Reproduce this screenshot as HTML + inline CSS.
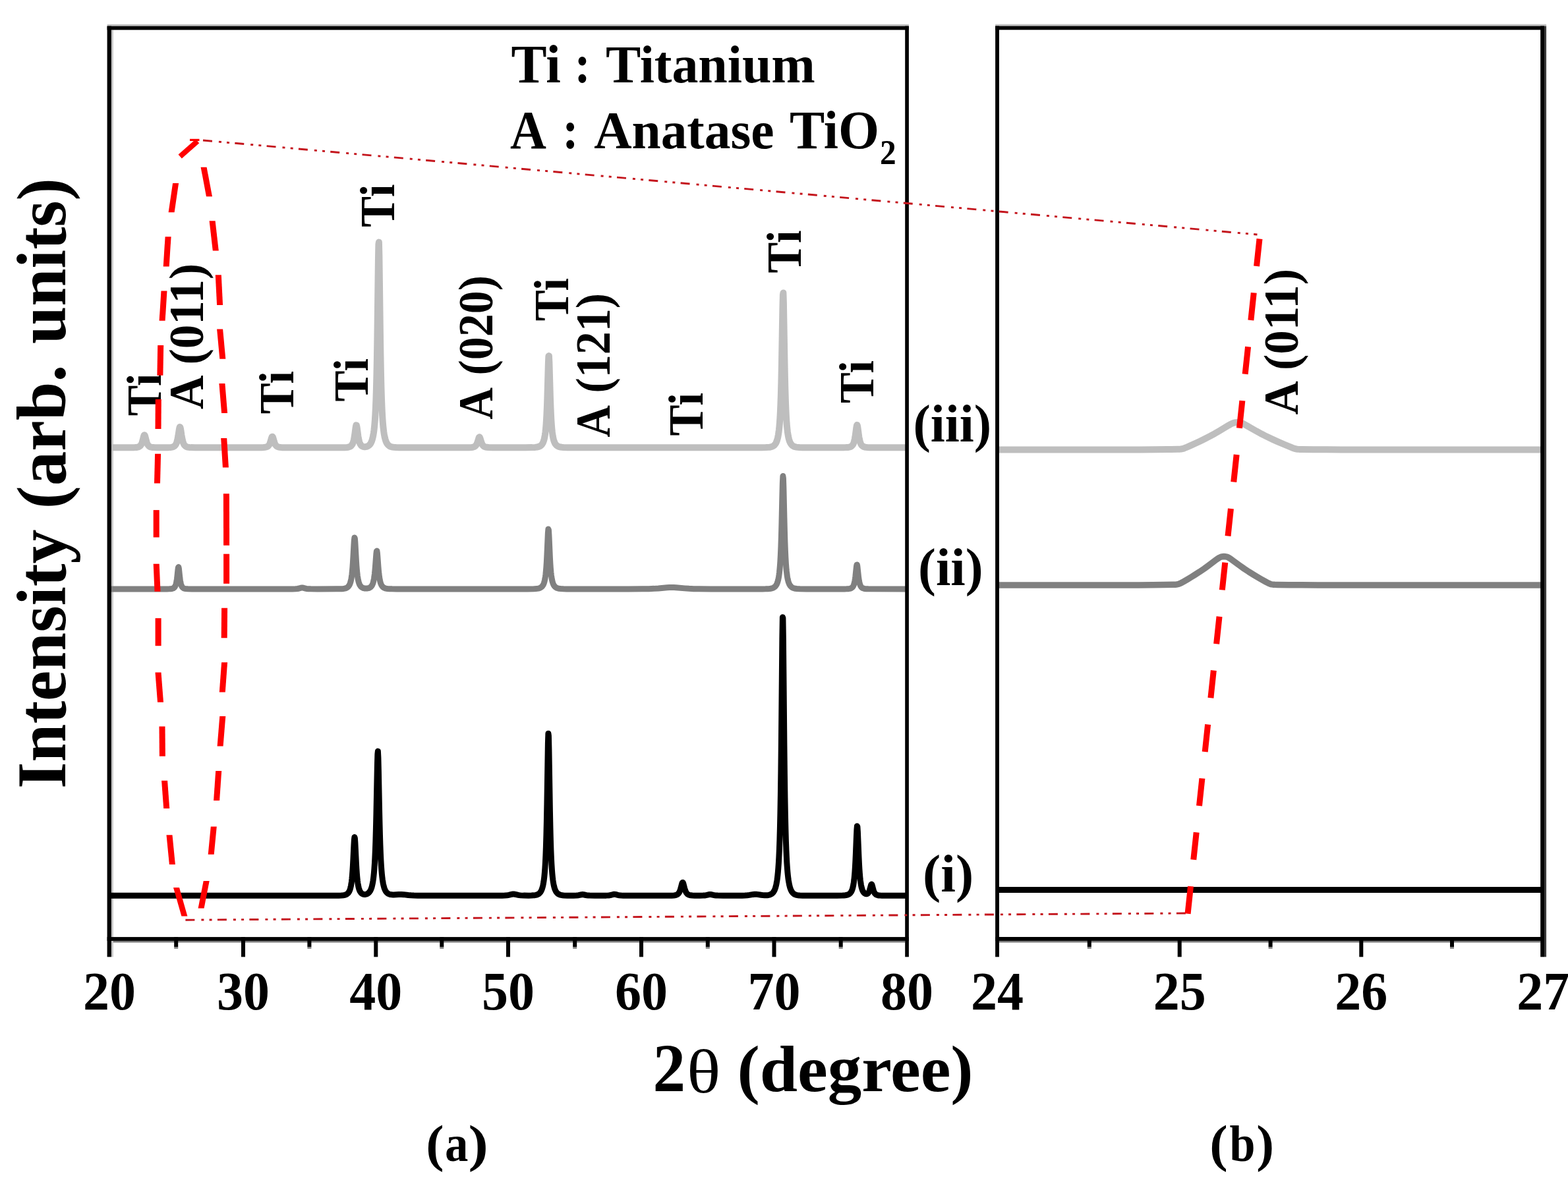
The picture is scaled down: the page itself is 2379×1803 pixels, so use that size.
<!DOCTYPE html>
<html lang="en">
<head>
<meta charset="utf-8">
<title>XRD patterns</title>
<style>
html,body{margin:0;padding:0;background:#fff;}
body{width:2379px;height:1803px;overflow:hidden;}
svg{display:block;}
text{font-family:"Liberation Serif", "DejaVu Serif", serif;}
</style>
</head>
<body>
<svg width="2379" height="1803" viewBox="0 0 2379 1803" font-family='"Liberation Serif", "DejaVu Serif", serif'>
<rect width="2379" height="1803" fill="#fff"/>
<defs><filter id="soft" x="0" y="0" width="2379" height="1803" filterUnits="userSpaceOnUse" color-interpolation-filters="sRGB"><feGaussianBlur stdDeviation="0.45"/></filter></defs>
<g filter="url(#soft)">
<rect width="2379" height="1803" fill="#fff"/>
<rect x="162.6" y="36.8" width="1216.3" height="2.8" fill="#c0c0c0"/>
<rect x="168.9" y="1427.9" width="1204.3" height="2.6" fill="#7c7c7c"/>
<rect x="168.9" y="45.4" width="2.9" height="1406.9" fill="#c8c8c8"/>
<rect x="1510.1" y="36.7" width="836.0" height="2.8" fill="#c0c0c0"/>
<rect x="1515.9" y="1427.9" width="821.3" height="2.6" fill="#7c7c7c"/>
<rect x="2343.0" y="39.5" width="3.1" height="1412.8" fill="#3a3a3a"/>
<path d="M165.9 679.20 L202.9 679.15 L204.9 679.09 L206.9 678.94 L208.4 678.72 L209.9 678.34 L211.4 677.68 L212.4 676.97 L213.4 675.93 L213.9 675.23 L214.4 674.39 L214.9 673.36 L215.4 672.12 L215.9 670.64 L216.4 668.90 L217.9 662.81 L218.4 661.16 L218.9 660.22 L219.4 660.23 L219.9 661.19 L220.4 662.85 L221.9 668.94 L222.4 670.67 L222.9 672.15 L223.4 673.38 L223.9 674.41 L224.4 675.25 L225.4 676.51 L226.4 677.37 L226.9 677.68 L227.9 678.17 L229.4 678.62 L231.4 678.94 L233.9 679.11 L237.9 679.19 L250.9 679.19 L255.9 679.13 L259.4 678.89 L260.9 678.66 L261.9 678.41 L262.9 678.05 L263.9 677.55 L264.9 676.83 L265.4 676.36 L266.4 675.11 L266.9 674.29 L267.4 673.29 L267.9 672.08 L268.4 670.62 L268.9 668.84 L269.4 666.71 L270.4 661.24 L271.9 651.41 L272.4 649.03 L272.9 647.95 L273.4 648.45 L273.9 650.40 L274.4 653.33 L275.4 660.05 L276.4 665.81 L276.9 668.09 L277.4 669.99 L277.9 671.56 L278.4 672.86 L278.9 673.93 L279.4 674.82 L279.9 675.55 L280.4 676.16 L281.4 677.08 L282.4 677.73 L283.4 678.18 L284.9 678.62 L286.4 678.87 L287.9 679.02 L289.9 679.12 L295.4 679.19 L385.9 679.20 L397.4 679.15 L399.9 679.05 L401.9 678.86 L403.9 678.46 L405.4 677.88 L406.4 677.27 L406.9 676.86 L407.9 675.76 L408.4 675.03 L408.9 674.14 L409.4 673.07 L409.9 671.78 L410.4 670.27 L411.9 664.96 L412.4 663.50 L412.9 662.65 L413.4 662.63 L413.9 663.43 L414.4 664.87 L415.9 670.18 L416.4 671.70 L416.9 673.00 L417.4 674.09 L417.9 674.99 L418.4 675.73 L419.4 676.83 L419.9 677.25 L420.9 677.87 L422.4 678.45 L424.4 678.86 L426.4 679.05 L428.4 679.14 L435.9 679.20 L517.4 679.19 L522.9 679.14 L526.4 678.94 L527.9 678.75 L529.4 678.43 L530.9 677.88 L531.9 677.33 L532.9 676.52 L533.9 675.36 L534.4 674.60 L534.9 673.66 L535.4 672.52 L535.9 671.12 L536.4 669.41 L536.9 667.31 L537.4 664.75 L538.4 658.14 L539.4 650.38 L539.9 647.15 L540.4 645.32 L540.9 645.41 L541.4 647.39 L541.9 650.70 L543.4 661.96 L543.9 664.97 L544.4 667.48 L544.9 669.53 L545.4 671.21 L545.9 672.57 L546.4 673.68 L546.9 674.59 L547.9 675.94 L548.4 676.44 L549.4 677.18 L549.9 677.45 L550.9 677.84 L552.4 678.14 L553.9 678.18 L554.9 678.09 L555.9 677.90 L556.9 677.61 L557.9 677.19 L559.4 676.29 L560.4 675.44 L561.4 674.33 L562.4 672.86 L563.4 670.93 L564.4 668.35 L564.9 666.74 L565.9 662.66 L566.4 660.07 L566.9 657.00 L567.4 653.33 L567.9 648.93 L568.4 643.60 L568.9 637.08 L569.4 629.06 L569.9 619.10 L570.4 606.60 L570.9 590.83 L571.4 570.85 L571.9 545.61 L572.4 514.23 L573.9 396.51 L574.4 370.70 L574.9 367.57 L575.4 388.43 L576.9 505.44 L577.4 538.41 L577.9 565.11 L578.4 586.30 L578.9 603.02 L579.4 616.25 L579.9 626.79 L580.4 635.25 L580.9 642.10 L581.4 647.70 L581.9 652.31 L582.4 656.15 L582.9 659.36 L583.4 662.06 L583.9 664.35 L584.4 666.31 L585.4 669.41 L586.4 671.73 L587.4 673.47 L588.4 674.80 L589.4 675.82 L590.9 676.92 L592.4 677.67 L594.4 678.31 L595.9 678.61 L597.4 678.82 L600.9 679.07 L605.4 679.17 L706.4 679.20 L711.9 679.15 L715.4 678.96 L716.9 678.76 L717.9 678.55 L718.9 678.25 L719.9 677.81 L720.9 677.16 L721.4 676.73 L722.4 675.56 L722.9 674.79 L723.4 673.85 L724.4 671.38 L726.4 664.84 L726.9 663.75 L727.4 663.36 L727.9 663.79 L728.4 664.92 L730.4 671.46 L731.4 673.90 L731.9 674.83 L732.4 675.60 L733.4 676.75 L733.9 677.18 L734.9 677.82 L736.4 678.42 L738.4 678.85 L741.4 679.10 L746.9 679.19 L797.9 679.20 L807.4 679.12 L811.9 678.90 L814.9 678.53 L816.4 678.20 L817.4 677.90 L818.4 677.51 L819.4 677.00 L820.4 676.33 L820.9 675.92 L821.9 674.91 L822.4 674.28 L823.4 672.69 L823.9 671.69 L824.9 669.11 L825.4 667.44 L825.9 665.43 L826.4 663.00 L826.9 660.03 L827.4 656.36 L827.9 651.80 L828.4 646.08 L828.9 638.86 L829.4 629.70 L829.9 618.15 L830.4 603.82 L831.9 551.14 L832.4 540.38 L832.9 540.04 L833.4 550.26 L834.9 602.87 L835.4 617.37 L835.9 629.08 L836.4 638.36 L836.9 645.69 L837.4 651.49 L837.9 656.11 L838.4 659.83 L838.9 662.84 L839.4 665.30 L839.9 667.33 L840.4 669.02 L840.9 670.43 L841.9 672.64 L842.4 673.50 L843.4 674.87 L844.4 675.89 L845.4 676.67 L846.4 677.25 L847.4 677.70 L848.9 678.19 L850.4 678.52 L852.4 678.81 L854.9 679.01 L860.9 679.17 L872.9 679.20 L1155.9 679.19 L1161.9 679.10 L1165.9 678.88 L1167.4 678.71 L1168.9 678.46 L1170.4 678.09 L1171.4 677.76 L1172.9 677.05 L1173.9 676.41 L1174.9 675.57 L1175.9 674.47 L1176.9 673.02 L1177.4 672.12 L1178.4 669.89 L1178.9 668.48 L1179.9 664.90 L1180.4 662.61 L1180.9 659.87 L1181.4 656.58 L1181.9 652.60 L1182.4 647.75 L1182.9 641.77 L1183.4 634.34 L1183.9 625.03 L1184.4 613.29 L1184.9 598.41 L1185.4 579.60 L1185.9 556.20 L1187.4 467.66 L1187.9 447.68 L1188.4 444.54 L1188.9 459.57 L1190.4 547.38 L1190.9 572.38 L1191.4 592.65 L1191.9 608.74 L1192.4 621.44 L1192.9 631.49 L1193.4 639.49 L1193.9 645.91 L1194.4 651.10 L1194.9 655.35 L1195.4 658.85 L1195.9 661.75 L1196.4 664.19 L1196.9 666.23 L1197.9 669.45 L1198.9 671.80 L1199.4 672.74 L1200.4 674.25 L1201.4 675.40 L1202.4 676.28 L1203.4 676.96 L1204.9 677.69 L1206.4 678.19 L1208.4 678.61 L1210.4 678.87 L1212.9 679.04 L1216.9 679.15 L1222.9 679.19 L1279.9 679.18 L1283.4 679.11 L1285.9 678.97 L1287.9 678.71 L1289.4 678.35 L1290.4 677.99 L1291.4 677.47 L1292.4 676.73 L1292.9 676.25 L1293.9 674.96 L1294.4 674.11 L1294.9 673.07 L1295.4 671.79 L1295.9 670.23 L1296.4 668.32 L1296.9 665.98 L1297.4 663.15 L1297.9 659.81 L1299.4 648.42 L1299.9 645.82 L1300.4 644.94 L1300.9 646.06 L1301.4 648.84 L1302.9 660.26 L1303.4 663.53 L1303.9 666.29 L1304.4 668.58 L1304.9 670.44 L1305.4 671.97 L1305.9 673.21 L1306.4 674.23 L1306.9 675.06 L1307.4 675.75 L1308.4 676.79 L1309.4 677.51 L1310.4 678.01 L1311.9 678.51 L1313.9 678.87 L1315.9 679.04 L1318.9 679.15 L1375.9 679.20" fill="none" stroke="#bebebe" stroke-width="10" stroke-linejoin="round" stroke-linecap="butt"/>
<path d="M165.9 893.90 L253.4 893.89 L256.9 893.82 L258.9 893.70 L260.4 893.50 L261.9 893.14 L262.9 892.73 L263.4 892.45 L264.4 891.66 L264.9 891.11 L265.4 890.41 L265.9 889.52 L266.4 888.38 L266.9 886.90 L267.4 884.97 L267.9 882.44 L268.4 879.16 L268.9 875.02 L269.9 865.15 L270.4 861.44 L270.9 860.59 L271.4 863.02 L272.9 877.19 L273.4 880.90 L273.9 883.78 L274.4 886.00 L274.9 887.69 L275.4 888.99 L275.9 889.99 L276.4 890.78 L276.9 891.40 L277.4 891.89 L278.4 892.59 L279.4 893.05 L280.4 893.35 L281.9 893.62 L284.9 893.83 L290.9 893.90 L443.4 893.88 L448.4 893.75 L451.4 893.48 L453.9 892.98 L456.9 892.09 L457.9 891.92 L458.4 891.90 L458.9 891.93 L459.9 892.12 L462.9 893.01 L464.9 893.42 L467.9 893.73 L471.4 893.85 L481.9 893.90 L513.4 893.86 L518.9 893.67 L520.9 893.48 L522.9 893.15 L524.9 892.57 L525.9 892.13 L526.9 891.55 L527.9 890.76 L528.4 890.27 L529.4 889.01 L530.4 887.25 L530.9 886.11 L531.4 884.74 L531.9 883.08 L532.4 881.07 L532.9 878.60 L533.4 875.55 L533.9 871.77 L534.4 867.08 L534.9 861.28 L535.4 854.19 L535.9 845.80 L536.9 827.09 L537.4 819.55 L537.9 815.91 L538.4 817.42 L538.9 823.56 L540.4 850.79 L540.9 858.44 L541.4 864.77 L541.9 869.91 L542.4 874.05 L542.9 877.38 L543.4 880.08 L543.9 882.27 L544.4 884.07 L544.9 885.55 L545.4 886.78 L546.4 888.66 L547.4 890.00 L547.9 890.52 L548.9 891.35 L550.4 892.19 L551.9 892.70 L552.9 892.91 L554.4 893.09 L555.9 893.11 L556.9 893.04 L557.9 892.90 L558.9 892.68 L559.9 892.36 L560.9 891.91 L561.9 891.28 L562.4 890.88 L563.4 889.85 L563.9 889.19 L564.9 887.45 L565.4 886.30 L565.9 884.90 L566.4 883.19 L566.9 881.09 L567.4 878.49 L567.9 875.26 L568.4 871.25 L568.9 866.32 L569.4 860.41 L570.9 840.25 L571.4 836.32 L571.9 836.03 L572.4 839.48 L572.9 845.53 L573.9 859.46 L574.4 865.52 L574.9 870.59 L575.4 874.72 L575.9 878.06 L576.4 880.75 L576.9 882.92 L577.4 884.68 L577.9 886.12 L578.4 887.31 L578.9 888.29 L579.9 889.79 L580.9 890.86 L581.4 891.28 L582.4 891.94 L583.9 892.62 L585.4 893.07 L587.9 893.49 L590.9 893.73 L594.9 893.85 L601.9 893.90 L800.4 893.89 L809.9 893.77 L812.9 893.60 L814.9 893.39 L816.4 893.14 L817.9 892.77 L818.9 892.43 L819.9 891.98 L821.4 891.03 L822.4 890.12 L822.9 889.54 L823.9 888.08 L824.4 887.13 L824.9 886.01 L825.4 884.65 L825.9 883.00 L826.4 880.98 L826.9 878.49 L827.4 875.39 L827.9 871.49 L828.4 866.55 L828.9 860.31 L829.4 852.44 L829.9 842.74 L831.4 808.78 L831.9 803.05 L832.4 804.37 L832.9 812.18 L834.4 846.44 L834.9 855.47 L835.4 862.73 L835.9 868.46 L836.4 873.00 L836.9 876.59 L837.4 879.45 L837.9 881.76 L838.4 883.63 L838.9 885.17 L839.4 886.44 L840.4 888.38 L841.4 889.76 L841.9 890.30 L842.9 891.17 L844.4 892.07 L845.4 892.50 L846.4 892.82 L848.4 893.26 L851.4 893.62 L854.9 893.79 L859.9 893.88 L953.9 893.90 L974.9 893.85 L984.4 893.69 L992.4 893.37 L998.9 892.91 L1011.9 891.69 L1015.4 891.48 L1018.9 891.40 L1022.4 891.47 L1025.9 891.67 L1038.9 892.89 L1045.4 893.36 L1052.4 893.66 L1060.4 893.82 L1078.9 893.90 L1156.9 893.89 L1161.4 893.84 L1164.9 893.72 L1167.4 893.53 L1169.4 893.25 L1170.9 892.93 L1172.4 892.45 L1173.4 892.02 L1174.4 891.45 L1175.4 890.71 L1176.4 889.74 L1177.4 888.45 L1177.9 887.65 L1178.9 885.63 L1179.4 884.35 L1179.9 882.84 L1180.4 881.05 L1180.9 878.90 L1181.4 876.32 L1181.9 873.18 L1182.4 869.34 L1182.9 864.59 L1183.4 858.66 L1183.9 851.22 L1184.4 841.81 L1184.9 829.88 L1185.4 814.87 L1185.9 796.41 L1186.9 752.13 L1187.4 732.71 L1187.9 722.61 L1188.4 725.89 L1188.9 741.16 L1189.9 785.41 L1190.4 805.62 L1190.9 822.42 L1191.4 835.90 L1191.9 846.56 L1192.4 854.97 L1192.9 861.65 L1193.4 866.97 L1193.9 871.26 L1194.4 874.75 L1194.9 877.61 L1195.4 879.97 L1195.9 881.94 L1196.4 883.59 L1197.4 886.17 L1197.9 887.18 L1198.9 888.79 L1199.4 889.44 L1200.4 890.48 L1201.4 891.28 L1202.4 891.88 L1203.9 892.54 L1205.4 892.99 L1206.9 893.29 L1208.9 893.55 L1213.4 893.81 L1223.9 893.90 L1281.4 893.88 L1284.4 893.82 L1286.9 893.68 L1288.9 893.41 L1290.4 893.02 L1291.4 892.61 L1292.4 891.99 L1293.4 891.08 L1293.9 890.46 L1294.4 889.69 L1294.9 888.73 L1295.4 887.52 L1295.9 885.99 L1296.4 884.05 L1296.9 881.57 L1297.4 878.44 L1297.9 874.54 L1299.4 860.15 L1299.9 857.21 L1300.4 857.10 L1300.9 859.88 L1302.4 874.25 L1302.9 878.20 L1303.4 881.38 L1303.9 883.90 L1304.4 885.87 L1304.9 887.42 L1305.4 888.65 L1305.9 889.63 L1306.4 890.41 L1307.4 891.55 L1307.9 891.97 L1308.9 892.59 L1310.4 893.17 L1311.9 893.49 L1314.4 893.75 L1317.4 893.86 L1375.9 893.90" fill="none" stroke="#808080" stroke-width="9" stroke-linejoin="round" stroke-linecap="butt"/>
<path d="M165.9 1359.20 L507.9 1359.19 L513.9 1359.15 L517.9 1359.01 L520.9 1358.72 L522.9 1358.35 L523.9 1358.06 L524.9 1357.69 L525.9 1357.19 L526.9 1356.53 L527.9 1355.63 L528.4 1355.07 L529.4 1353.64 L530.4 1351.64 L530.9 1350.34 L531.4 1348.78 L531.9 1346.90 L532.4 1344.61 L532.9 1341.80 L533.4 1338.33 L533.9 1334.04 L534.4 1328.70 L534.9 1322.10 L535.4 1314.04 L535.9 1304.50 L536.9 1283.22 L537.4 1274.64 L537.9 1270.50 L538.4 1272.22 L538.9 1279.19 L540.4 1310.16 L540.9 1318.85 L541.4 1326.04 L541.9 1331.88 L542.4 1336.58 L542.9 1340.36 L543.4 1343.42 L543.9 1345.91 L544.4 1347.94 L544.9 1349.61 L545.4 1351.00 L545.9 1352.15 L546.4 1353.11 L547.4 1354.60 L547.9 1355.17 L548.9 1356.05 L549.9 1356.67 L550.9 1357.08 L551.9 1357.33 L552.9 1357.45 L554.4 1357.39 L555.4 1357.20 L556.4 1356.89 L557.4 1356.44 L558.4 1355.83 L559.4 1355.01 L560.4 1353.93 L561.4 1352.52 L562.4 1350.67 L562.9 1349.52 L563.9 1346.67 L564.4 1344.88 L565.4 1340.33 L565.9 1337.42 L566.4 1333.94 L566.9 1329.78 L567.4 1324.74 L567.9 1318.61 L568.4 1311.09 L568.9 1301.81 L569.4 1290.31 L569.9 1276.05 L570.4 1258.50 L570.9 1237.29 L572.4 1161.64 L572.9 1144.49 L573.4 1140.11 L573.9 1150.05 L574.4 1170.89 L575.4 1222.83 L575.9 1246.18 L576.4 1265.92 L576.9 1282.09 L577.4 1295.18 L577.9 1305.73 L578.4 1314.26 L578.9 1321.19 L579.4 1326.85 L579.9 1331.51 L580.4 1335.38 L580.9 1338.62 L581.4 1341.34 L581.9 1343.64 L582.9 1347.27 L583.4 1348.72 L584.4 1351.04 L584.9 1351.97 L585.9 1353.50 L586.4 1354.12 L587.4 1355.14 L587.9 1355.56 L588.9 1356.25 L590.4 1356.98 L591.4 1357.32 L592.4 1357.57 L594.4 1357.85 L595.9 1357.92 L597.4 1357.91 L604.9 1357.44 L606.9 1357.38 L608.9 1357.41 L612.4 1357.64 L619.4 1358.43 L623.4 1358.78 L627.9 1359.02 L633.9 1359.16 L652.4 1359.20 L761.9 1359.16 L765.9 1359.04 L769.4 1358.74 L771.9 1358.32 L776.9 1357.19 L777.9 1357.06 L778.9 1357.00 L779.9 1357.04 L780.9 1357.16 L786.4 1358.38 L787.9 1358.63 L789.9 1358.88 L794.4 1359.12 L801.9 1359.17 L806.4 1359.08 L809.9 1358.85 L811.4 1358.67 L812.9 1358.39 L814.9 1357.81 L816.4 1357.14 L817.9 1356.14 L818.9 1355.21 L819.9 1354.01 L820.9 1352.41 L821.4 1351.43 L822.4 1348.95 L822.9 1347.40 L823.4 1345.58 L823.9 1343.43 L824.4 1340.87 L824.9 1337.82 L825.4 1334.14 L825.9 1329.68 L826.4 1324.22 L826.9 1317.47 L827.4 1309.06 L827.9 1298.49 L828.4 1285.13 L828.9 1268.21 L829.4 1246.89 L829.9 1220.62 L831.4 1128.65 L831.9 1113.14 L832.4 1116.71 L832.9 1137.86 L834.4 1230.65 L834.9 1255.12 L835.4 1274.76 L835.9 1290.31 L836.4 1302.58 L836.9 1312.30 L837.4 1320.06 L837.9 1326.31 L838.4 1331.39 L838.9 1335.55 L839.4 1338.98 L839.9 1341.84 L840.4 1344.24 L841.4 1347.99 L841.9 1349.46 L842.9 1351.80 L843.4 1352.73 L844.4 1354.25 L845.4 1355.40 L846.4 1356.28 L847.4 1356.95 L848.4 1357.47 L849.9 1358.04 L851.4 1358.43 L853.4 1358.76 L855.4 1358.95 L860.9 1359.15 L869.9 1359.17 L874.9 1358.99 L877.9 1358.66 L882.4 1357.73 L883.9 1357.60 L885.4 1357.73 L888.9 1358.48 L890.4 1358.74 L892.4 1358.96 L894.4 1359.08 L902.4 1359.20 L914.9 1359.19 L919.9 1359.13 L922.9 1358.98 L925.4 1358.69 L927.4 1358.27 L930.9 1357.34 L932.4 1357.20 L933.9 1357.38 L937.4 1358.33 L939.4 1358.72 L942.4 1359.03 L945.9 1359.16 L1013.4 1359.19 L1018.9 1359.14 L1022.4 1358.95 L1023.9 1358.75 L1024.9 1358.55 L1025.9 1358.27 L1026.9 1357.87 L1027.9 1357.31 L1028.4 1356.94 L1029.4 1355.98 L1029.9 1355.35 L1030.9 1353.68 L1031.9 1351.31 L1032.9 1348.05 L1034.4 1342.10 L1034.9 1340.45 L1035.4 1339.41 L1035.9 1339.22 L1036.4 1339.90 L1036.9 1341.31 L1038.4 1347.22 L1039.4 1350.67 L1040.4 1353.23 L1041.4 1355.03 L1042.4 1356.28 L1042.9 1356.76 L1043.9 1357.49 L1044.9 1358.00 L1045.9 1358.36 L1047.9 1358.80 L1050.4 1359.05 L1053.9 1359.16 L1061.9 1359.18 L1066.9 1359.07 L1068.9 1358.94 L1070.9 1358.69 L1072.4 1358.41 L1075.9 1357.57 L1077.4 1357.40 L1078.9 1357.53 L1082.4 1358.37 L1084.4 1358.74 L1086.4 1358.96 L1088.9 1359.10 L1097.4 1359.20 L1125.9 1359.15 L1130.4 1359.01 L1133.9 1358.76 L1136.9 1358.39 L1142.9 1357.42 L1144.4 1357.27 L1145.9 1357.20 L1147.4 1357.24 L1148.9 1357.38 L1154.9 1358.31 L1157.4 1358.62 L1159.9 1358.78 L1161.9 1358.81 L1163.9 1358.71 L1165.9 1358.46 L1167.4 1358.12 L1168.9 1357.61 L1170.4 1356.84 L1171.4 1356.13 L1171.9 1355.69 L1172.9 1354.64 L1173.4 1354.00 L1174.4 1352.44 L1175.4 1350.40 L1176.4 1347.70 L1177.4 1344.11 L1177.9 1341.86 L1178.9 1336.17 L1179.4 1332.54 L1179.9 1328.24 L1180.4 1323.10 L1180.9 1316.92 L1181.4 1309.43 L1181.9 1300.26 L1182.4 1288.96 L1182.9 1274.89 L1183.4 1257.23 L1183.9 1234.92 L1184.4 1206.65 L1184.9 1170.99 L1185.4 1126.86 L1186.9 967.28 L1187.4 936.68 L1187.9 938.20 L1188.4 971.22 L1189.9 1131.14 L1190.4 1174.50 L1190.9 1209.44 L1191.4 1237.12 L1191.9 1258.97 L1192.4 1276.27 L1192.9 1290.07 L1193.4 1301.16 L1193.9 1310.15 L1194.4 1317.52 L1194.9 1323.60 L1195.4 1328.65 L1195.9 1332.89 L1196.4 1336.46 L1197.4 1342.08 L1198.4 1346.20 L1198.9 1347.84 L1199.9 1350.51 L1200.9 1352.53 L1201.9 1354.07 L1202.4 1354.70 L1203.4 1355.74 L1204.9 1356.88 L1206.4 1357.65 L1207.4 1358.02 L1208.4 1358.31 L1210.4 1358.69 L1213.4 1358.99 L1217.9 1359.15 L1225.4 1359.20 L1269.9 1359.19 L1278.4 1359.08 L1280.4 1358.98 L1282.4 1358.79 L1283.9 1358.55 L1285.4 1358.20 L1286.4 1357.87 L1287.4 1357.43 L1288.4 1356.85 L1289.4 1356.07 L1290.4 1355.03 L1291.4 1353.60 L1292.4 1351.63 L1292.9 1350.36 L1293.4 1348.85 L1293.9 1347.04 L1294.4 1344.85 L1294.9 1342.19 L1295.4 1338.93 L1295.9 1334.91 L1296.4 1329.93 L1296.9 1323.74 L1297.4 1316.09 L1297.9 1306.71 L1298.4 1295.55 L1299.4 1270.19 L1299.9 1259.48 L1300.4 1253.72 L1300.9 1254.86 L1301.4 1262.48 L1302.9 1299.29 L1303.4 1309.89 L1303.9 1318.69 L1304.4 1325.85 L1304.9 1331.62 L1305.4 1336.27 L1305.9 1340.02 L1306.4 1343.07 L1306.9 1345.56 L1307.4 1347.61 L1307.9 1349.31 L1308.4 1350.72 L1308.9 1351.90 L1309.9 1353.72 L1310.4 1354.42 L1311.4 1355.48 L1312.4 1356.19 L1313.4 1356.61 L1314.4 1356.76 L1315.4 1356.62 L1315.9 1356.43 L1316.4 1356.14 L1316.9 1355.74 L1317.4 1355.20 L1317.9 1354.50 L1318.4 1353.60 L1318.9 1352.47 L1319.4 1351.07 L1319.9 1349.41 L1321.4 1343.68 L1321.9 1342.40 L1322.4 1342.00 L1322.9 1342.63 L1323.4 1344.09 L1324.9 1349.99 L1325.4 1351.66 L1325.9 1353.07 L1326.4 1354.22 L1326.9 1355.16 L1327.4 1355.92 L1328.4 1357.04 L1329.4 1357.77 L1329.9 1358.04 L1330.9 1358.43 L1331.9 1358.70 L1333.4 1358.94 L1335.4 1359.09 L1337.9 1359.17 L1375.9 1359.20" fill="none" stroke="#000" stroke-width="9" stroke-linejoin="round" stroke-linecap="butt"/>
<path d="M1513.0 682.50 L1672.5 682.49 L1729.0 682.41 L1752.5 682.29 L1771.0 682.10 L1787.0 681.81 L1789.5 681.72 L1791.5 681.56 L1793.5 681.25 L1795.0 680.89 L1797.0 680.22 L1799.5 679.21 L1806.5 676.12 L1814.5 672.47 L1821.0 669.41 L1827.5 666.23 L1835.5 662.12 L1843.0 658.02 L1850.0 653.97 L1864.0 645.56 L1867.0 643.87 L1869.0 642.86 L1871.0 642.02 L1873.0 641.45 L1875.0 641.14 L1877.5 641.03 L1880.0 641.18 L1882.0 641.51 L1884.0 642.09 L1886.5 643.15 L1891.0 645.55 L1906.5 654.46 L1914.5 658.79 L1919.5 661.35 L1925.0 664.05 L1931.0 666.87 L1937.0 669.59 L1949.0 674.78 L1961.5 679.93 L1963.5 680.65 L1965.5 681.22 L1967.0 681.52 L1969.0 681.76 L1971.0 681.88 L1974.5 681.96 L1993.5 682.22 L2014.0 682.36 L2040.0 682.45 L2341.0 682.50" fill="none" stroke="#bebebe" stroke-width="10" stroke-linejoin="round" stroke-linecap="butt"/>
<path d="M1513.0 888.00 L1676.5 887.99 L1728.0 887.92 L1749.0 887.80 L1765.5 887.61 L1780.0 887.31 L1783.0 887.19 L1785.0 887.03 L1787.0 886.69 L1788.5 886.27 L1790.0 885.69 L1792.0 884.73 L1795.5 882.80 L1802.0 879.02 L1807.5 875.73 L1812.5 872.66 L1820.0 867.83 L1827.0 863.05 L1833.5 858.35 L1845.5 849.32 L1847.5 847.90 L1849.5 846.63 L1851.5 845.62 L1853.0 845.09 L1855.0 844.68 L1857.0 844.56 L1859.0 844.68 L1861.0 845.08 L1862.5 845.60 L1864.5 846.59 L1866.5 847.83 L1868.5 849.21 L1880.5 858.05 L1887.5 863.00 L1894.5 867.65 L1902.5 872.64 L1908.0 875.91 L1913.5 879.08 L1920.5 883.01 L1924.0 884.88 L1926.0 885.81 L1928.0 886.52 L1929.5 886.87 L1931.5 887.15 L1934.0 887.29 L1938.0 887.41 L1955.5 887.70 L1974.5 887.86 L1999.5 887.95 L2341.0 888.00" fill="none" stroke="#808080" stroke-width="9.5" stroke-linejoin="round" stroke-linecap="butt"/>
<path d="M1513.0 1350.50 L2341.0 1350.50" fill="none" stroke="#000" stroke-width="9" stroke-linejoin="round" stroke-linecap="butt"/>
<rect x="162.6" y="39.6" width="6.3" height="1412.7" fill="#000"/>
<rect x="1373.2" y="39.6" width="5.7" height="1412.7" fill="#000"/>
<rect x="162.6" y="39.6" width="1216.3" height="5.8" fill="#000"/>
<rect x="162.6" y="1422.1" width="1216.3" height="5.8" fill="#000"/>
<rect x="366.0" y="1422.1" width="6.0" height="30.2" fill="#000"/>
<rect x="567.3" y="1422.1" width="6.0" height="30.2" fill="#000"/>
<rect x="768.0" y="1422.1" width="6.0" height="30.2" fill="#000"/>
<rect x="970.0" y="1422.1" width="6.0" height="30.2" fill="#000"/>
<rect x="1171.5" y="1422.1" width="6.0" height="30.2" fill="#000"/>
<rect x="264.2" y="1422.1" width="6.0" height="15.1" fill="#000"/>
<rect x="264.2" y="1437.2" width="6.0" height="2.6" fill="#7c7c7c"/>
<rect x="466.4" y="1422.1" width="6.0" height="15.1" fill="#000"/>
<rect x="466.4" y="1437.2" width="6.0" height="2.6" fill="#7c7c7c"/>
<rect x="667.3" y="1422.1" width="6.0" height="15.1" fill="#000"/>
<rect x="667.3" y="1437.2" width="6.0" height="2.6" fill="#7c7c7c"/>
<rect x="869.2" y="1422.1" width="6.0" height="15.1" fill="#000"/>
<rect x="869.2" y="1437.2" width="6.0" height="2.6" fill="#7c7c7c"/>
<rect x="1070.8" y="1422.1" width="6.0" height="15.1" fill="#000"/>
<rect x="1070.8" y="1437.2" width="6.0" height="2.6" fill="#7c7c7c"/>
<rect x="1272.7" y="1422.1" width="6.0" height="15.1" fill="#000"/>
<rect x="1272.7" y="1437.2" width="6.0" height="2.6" fill="#7c7c7c"/>
<rect x="1510.1" y="39.5" width="5.8" height="1412.8" fill="#000"/>
<rect x="2337.2" y="39.5" width="5.8" height="1412.8" fill="#000"/>
<rect x="1510.1" y="39.5" width="832.9" height="5.8" fill="#000"/>
<rect x="1510.1" y="1422.0" width="832.9" height="5.9" fill="#000"/>
<rect x="1786.7" y="1422.0" width="6.0" height="30.3" fill="#000"/>
<rect x="2062.3" y="1422.0" width="6.0" height="30.3" fill="#000"/>
<rect x="1649.8" y="1422.0" width="6.0" height="15.2" fill="#000"/>
<rect x="1649.8" y="1437.2" width="6.0" height="2.6" fill="#7c7c7c"/>
<rect x="1924.6" y="1422.0" width="6.0" height="15.2" fill="#000"/>
<rect x="1924.6" y="1437.2" width="6.0" height="2.6" fill="#7c7c7c"/>
<rect x="2200.0" y="1422.0" width="6.0" height="15.2" fill="#000"/>
<rect x="2200.0" y="1437.2" width="6.0" height="2.6" fill="#7c7c7c"/>
<text x="165.9" y="1532" font-size="82" font-weight="bold" text-anchor="middle" fill="#000" textLength="80.0" lengthAdjust="spacingAndGlyphs">20</text>
<text x="369.0" y="1532" font-size="82" font-weight="bold" text-anchor="middle" fill="#000" textLength="80.0" lengthAdjust="spacingAndGlyphs">30</text>
<text x="570.3" y="1532" font-size="82" font-weight="bold" text-anchor="middle" fill="#000" textLength="80.0" lengthAdjust="spacingAndGlyphs">40</text>
<text x="771.0" y="1532" font-size="82" font-weight="bold" text-anchor="middle" fill="#000" textLength="80.0" lengthAdjust="spacingAndGlyphs">50</text>
<text x="973.0" y="1532" font-size="82" font-weight="bold" text-anchor="middle" fill="#000" textLength="80.0" lengthAdjust="spacingAndGlyphs">60</text>
<text x="1174.5" y="1532" font-size="82" font-weight="bold" text-anchor="middle" fill="#000" textLength="80.0" lengthAdjust="spacingAndGlyphs">70</text>
<text x="1376.0" y="1532" font-size="82" font-weight="bold" text-anchor="middle" fill="#000" textLength="80.0" lengthAdjust="spacingAndGlyphs">80</text>
<text x="1513.0" y="1532" font-size="82" font-weight="bold" text-anchor="middle" fill="#000" textLength="80.0" lengthAdjust="spacingAndGlyphs">24</text>
<text x="1789.7" y="1532" font-size="82" font-weight="bold" text-anchor="middle" fill="#000" textLength="80.0" lengthAdjust="spacingAndGlyphs">25</text>
<text x="2065.3" y="1532" font-size="82" font-weight="bold" text-anchor="middle" fill="#000" textLength="80.0" lengthAdjust="spacingAndGlyphs">26</text>
<text x="2341.2" y="1532" font-size="82" font-weight="bold" text-anchor="middle" fill="#000" textLength="80.0" lengthAdjust="spacingAndGlyphs">27</text>
<text font-weight="bold" fill="#000"><tspan x="775.6" y="124.8" font-size="82" textLength="75.1" lengthAdjust="spacingAndGlyphs">Ti</tspan> <tspan x="871.4" y="124.8" font-size="82" textLength="24.4" lengthAdjust="spacingAndGlyphs">:</tspan> <tspan x="918.9" y="124.8" font-size="80" textLength="317.9" lengthAdjust="spacingAndGlyphs">Titanium</tspan></text>
<text font-weight="bold" fill="#000"><tspan x="774.0" y="224.9" font-size="82" textLength="54.9" lengthAdjust="spacingAndGlyphs">A</tspan> <tspan x="853.3" y="224.9" font-size="82" textLength="24.4" lengthAdjust="spacingAndGlyphs">:</tspan> <tspan x="901.2" y="224.9" font-size="80" textLength="273.4" lengthAdjust="spacingAndGlyphs">Anatase</tspan> <tspan x="1198.0" y="224.9" font-size="82" textLength="136.0" lengthAdjust="spacingAndGlyphs">TiO</tspan><tspan x="1334.9" y="249.0" font-size="53" textLength="24.7" lengthAdjust="spacingAndGlyphs">2</tspan></text>
<text transform="translate(98.8 0) rotate(-90)" font-weight="bold" fill="#000"><tspan x="-1197.1" y="0.0" font-size="105" textLength="393.6" lengthAdjust="spacingAndGlyphs">Intensity</tspan> <tspan x="-772.2" y="0.0" font-size="105" textLength="218.8" lengthAdjust="spacingAndGlyphs">(arb.</tspan> <tspan x="-521.9" y="0.0" font-size="105" textLength="251.7" lengthAdjust="spacingAndGlyphs">units)</tspan></text>
<text font-weight="bold" fill="#000"><tspan x="990.6" y="1655.5" font-size="104" textLength="49.6" lengthAdjust="spacingAndGlyphs">2</tspan><tspan x="1042.1" y="1658.0" font-size="94" font-weight="normal" textLength="51.3" lengthAdjust="spacingAndGlyphs">θ</tspan> <tspan x="1118.6" y="1655.5" font-size="100" textLength="358.0" lengthAdjust="spacingAndGlyphs">(degree)</tspan></text>
<text font-weight="bold" fill="#000"><tspan x="646.3" y="1761.8" font-size="77.5" textLength="27.3" lengthAdjust="spacingAndGlyphs">(</tspan><tspan x="675.1" y="1761.8" font-size="77.5" textLength="35.4" lengthAdjust="spacingAndGlyphs">a</tspan><tspan x="710.5" y="1761.8" font-size="77.5" textLength="30.3" lengthAdjust="spacingAndGlyphs">)</tspan></text>
<text font-weight="bold" fill="#000"><tspan x="1835.3" y="1761.8" font-size="77.5" textLength="27.4" lengthAdjust="spacingAndGlyphs">(</tspan><tspan x="1865.5" y="1761.8" font-size="77.5" textLength="39.0" lengthAdjust="spacingAndGlyphs">b</tspan><tspan x="1906.3" y="1761.8" font-size="77.5" textLength="26.8" lengthAdjust="spacingAndGlyphs">)</tspan></text>
<text font-weight="bold" fill="#000"><tspan x="1385.4" y="669.8" font-size="80" textLength="118.7" lengthAdjust="spacingAndGlyphs">(iii)</tspan></text>
<text font-weight="bold" fill="#000"><tspan x="1393.1" y="888.3" font-size="80" textLength="98.5" lengthAdjust="spacingAndGlyphs">(ii)</tspan></text>
<text font-weight="bold" fill="#000"><tspan x="1400.0" y="1353.2" font-size="80" textLength="77.1" lengthAdjust="spacingAndGlyphs">(i)</tspan></text>
<text transform="translate(244.4 0) rotate(-90)" font-weight="bold" fill="#000"><tspan x="-631.2" y="0.0" font-size="73" textLength="64.7" lengthAdjust="spacingAndGlyphs">Ti</tspan></text>
<text transform="translate(308.3 0) rotate(-90)" font-weight="bold" fill="#000"><tspan x="-621.2" y="0.0" font-size="73" textLength="51.7" lengthAdjust="spacingAndGlyphs">A</tspan> <tspan x="-553.5" y="0.0" font-size="73" textLength="153.8" lengthAdjust="spacingAndGlyphs">(011)</tspan></text>
<text transform="translate(445.2 0) rotate(-90)" font-weight="bold" fill="#000"><tspan x="-628.3" y="0.0" font-size="73" textLength="65.3" lengthAdjust="spacingAndGlyphs">Ti</tspan></text>
<text transform="translate(558.0 0) rotate(-90)" font-weight="bold" fill="#000"><tspan x="-609.4" y="0.0" font-size="73" textLength="65.4" lengthAdjust="spacingAndGlyphs">Ti</tspan></text>
<text transform="translate(597.8 0) rotate(-90)" font-weight="bold" fill="#000"><tspan x="-344.7" y="0.0" font-size="73" textLength="65.2" lengthAdjust="spacingAndGlyphs">Ti</tspan></text>
<text transform="translate(746.7 0) rotate(-90)" font-weight="bold" fill="#000"><tspan x="-636.7" y="0.0" font-size="73" textLength="48.7" lengthAdjust="spacingAndGlyphs">A</tspan> <tspan x="-569.5" y="0.0" font-size="73" textLength="151.6" lengthAdjust="spacingAndGlyphs">(020)</tspan></text>
<text transform="translate(862.0 0) rotate(-90)" font-weight="bold" fill="#000"><tspan x="-487.3" y="0.0" font-size="73" textLength="65.3" lengthAdjust="spacingAndGlyphs">Ti</tspan></text>
<text transform="translate(924.6 0) rotate(-90)" font-weight="bold" fill="#000"><tspan x="-663.7" y="0.0" font-size="73" textLength="48.7" lengthAdjust="spacingAndGlyphs">A</tspan> <tspan x="-596.6" y="0.0" font-size="73" textLength="151.6" lengthAdjust="spacingAndGlyphs">(121)</tspan></text>
<text transform="translate(1065.9 0) rotate(-90)" font-weight="bold" fill="#000"><tspan x="-661.4" y="0.0" font-size="73" textLength="65.4" lengthAdjust="spacingAndGlyphs">Ti</tspan></text>
<text transform="translate(1215.0 0) rotate(-90)" font-weight="bold" fill="#000"><tspan x="-414.5" y="0.0" font-size="73" textLength="65.0" lengthAdjust="spacingAndGlyphs">Ti</tspan></text>
<text transform="translate(1324.8 0) rotate(-90)" font-weight="bold" fill="#000"><tspan x="-612.1" y="0.0" font-size="73" textLength="65.1" lengthAdjust="spacingAndGlyphs">Ti</tspan></text>
<text transform="translate(1968.5 0) rotate(-90)" font-weight="bold" fill="#000"><tspan x="-629.5" y="0.0" font-size="73" textLength="51.4" lengthAdjust="spacingAndGlyphs">A</tspan> <tspan x="-562.1" y="0.0" font-size="73" textLength="154.3" lengthAdjust="spacingAndGlyphs">(011)</tspan></text>
<path d="M308 213 L1907.5 356" fill="none" stroke="#c4141c" stroke-width="2.9" stroke-dasharray="14 10 4 8.2 4 8.3"/>
<path d="M281.4 1396.2 L1800 1386" fill="none" stroke="#c4141c" stroke-width="2.9" stroke-dasharray="14 10 4 8.2 4 8.3"/>
<path d="M1911.4 358.5 L1802 1387.5" fill="none" stroke="#ff0000" stroke-width="9.0" stroke-dasharray="41.8 40.55" stroke-dashoffset="-4"/>
<polygon points="262.1,277.9 271.1,277.9 264.6,322.3 255.6,322.3" fill="#ff0000"/>
<polygon points="250.6,359.3 259.6,359.3 256.7,404.6 247.7,404.6" fill="#ff0000"/>
<polygon points="244.5,441.6 253.5,441.6 250.6,486.7 241.6,486.7" fill="#ff0000"/>
<polygon points="239.2,524 248.2,524 247.4,569.7 238.4,569.7" fill="#ff0000"/>
<polygon points="235.8,606 244.8,606 244.5,651.1 235.5,651.1" fill="#ff0000"/>
<polygon points="235.1,688.7 244.1,688.7 243.0,733.4 234.0,733.4" fill="#ff0000"/>
<polygon points="232.7,774.1 241.7,774.1 241.7,815.5 232.7,815.5" fill="#ff0000"/>
<polygon points="232.7,855.8 241.7,855.8 243.5,897.8 234.5,897.8" fill="#ff0000"/>
<polygon points="235.6,938.2 244.6,938.2 244.6,980.2 235.6,980.2" fill="#ff0000"/>
<polygon points="235.5,1020.5 244.5,1020.5 248.0,1065.8 239.0,1065.8" fill="#ff0000"/>
<polygon points="241.5,1102.6 250.5,1102.6 250.9,1147.7 241.9,1147.7" fill="#ff0000"/>
<polygon points="245.1,1184.7 254.1,1184.7 257.2,1226.9 248.2,1226.9" fill="#ff0000"/>
<polygon points="252.5,1267.2 261.5,1267.2 265.9,1312 256.9,1312" fill="#ff0000"/>
<polygon points="263.0,1347.1 272.0,1347.1 284.4,1390.6 275.4,1390.6" fill="#ff0000"/>
<polygon points="304.6,253.8 313.6,253.8 322.0,298.2 313.0,298.2" fill="#ff0000"/>
<polygon points="317.6,335.2 326.6,335.2 331.8,380.5 322.8,380.5" fill="#ff0000"/>
<polygon points="326.8,417.2 335.8,417.2 338.1,462.9 329.1,462.9" fill="#ff0000"/>
<polygon points="329.1,499.4 338.1,499.4 342.3,544.7 333.3,544.7" fill="#ff0000"/>
<polygon points="332.4,582.1 341.4,582.1 345.1,627.1 336.1,627.1" fill="#ff0000"/>
<polygon points="335.2,665 344.2,665 346.9,709.4 337.9,709.4" fill="#ff0000"/>
<polygon points="338.9,749.2 347.9,749.2 348.1,827.7 339.1,827.7" fill="#ff0000"/>
<polygon points="339.1,840.7 348.1,840.7 348.1,885.8 339.1,885.8" fill="#ff0000"/>
<polygon points="336.1,922.8 345.1,922.8 344.7,968.3 335.7,968.3" fill="#ff0000"/>
<polygon points="336.1,1005.3 345.1,1005.3 341.8,1050.5 332.8,1050.5" fill="#ff0000"/>
<polygon points="333.3,1087.1 342.3,1087.1 338.6,1132.5 329.6,1132.5" fill="#ff0000"/>
<polygon points="327.2,1169.9 336.2,1169.9 333.1,1214.9 324.1,1214.9" fill="#ff0000"/>
<polygon points="319.8,1254.6 328.8,1254.6 324.7,1296.8 315.7,1296.8" fill="#ff0000"/>
<polygon points="308.7,1337 317.7,1337 309.6,1378.6 300.6,1378.6" fill="#ff0000"/>
<path d="M273.2 237.6 L299.6 214.2" fill="none" stroke="#ff0000" stroke-width="8"/>
<path d="M288 212.4 L302.5 212.4" fill="none" stroke="#ff0000" stroke-width="3.2"/>
</g>
</svg>
</body>
</html>
